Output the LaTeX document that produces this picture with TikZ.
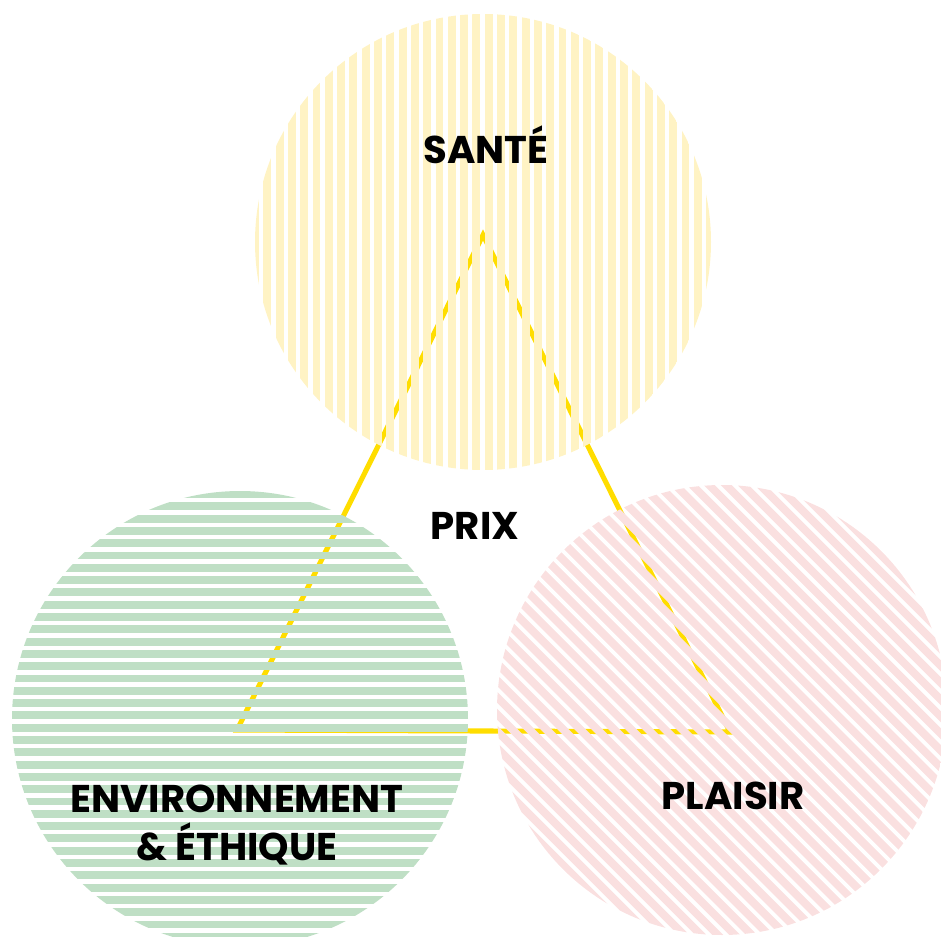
\documentclass[tikz,border=0pt]{standalone}
\usepackage{fontspec}
\setmainfont{Poppins}
\definecolor{santeyel}{RGB}{255,243,196}
\definecolor{envgreen}{RGB}{191,223,197}
\definecolor{plaipink}{RGB}{250,224,224}
\definecolor{prixline}{RGB}{255,221,0}

\begin{document}
\begin{tikzpicture}[x=0.02cm, y=-0.02cm,
    label/.style={font=\fontsize{22}{27.3}\selectfont\bfseries, align=center, anchor=base, inner sep=0pt},
    stripe/.style={line width=4.5pt}]
    \useasboundingbox (0,0) rectangle (941,937);
    % triangle under the circles
    \coordinate (top) at (483,235);
    \coordinate (left) at (237,730);
    \coordinate (right) at (730,732);
    \draw[color=prixline, line width=2.9pt, line join=miter] (top) -- (right) -- (left) -- cycle;
    % sante
    \begin{scope}
    \clip (483,242) circle (228);
    \foreach \i in {0,...,38}
        \draw[stripe, color=santeyel] ({255+\i*12.3},0) -- ++(0,480);
    \end{scope}
    % environnement
    \begin{scope}
    \clip (240,719) circle (228);
    \foreach \i in {0,...,38}
        \draw[stripe, color=envgreen] (0,{494+\i*12.3}) -- ++(480,0);
    \end{scope}
    % plaisir
    \begin{scope}
    \clip (722,710) circle (225);
    \foreach \d in {-330,-318,...,330}
        \draw[stripe, color=plaipink] ({722+\d*0.7071-340},{710-\d*0.7071-340}) -- ++(680,680);
    \end{scope}
    \node[label] (sante) at (486,163) {SANTÉ};
    \node[label] (prix) at (475,539) {PRIX};
    \node[label] (plaisir) at (733,809) {PLAISIR};
    \node[label] (envir) at (237,860) {ENVIRONNEMENT\\\& ÉTHIQUE};
\end{tikzpicture}
\end{document}
